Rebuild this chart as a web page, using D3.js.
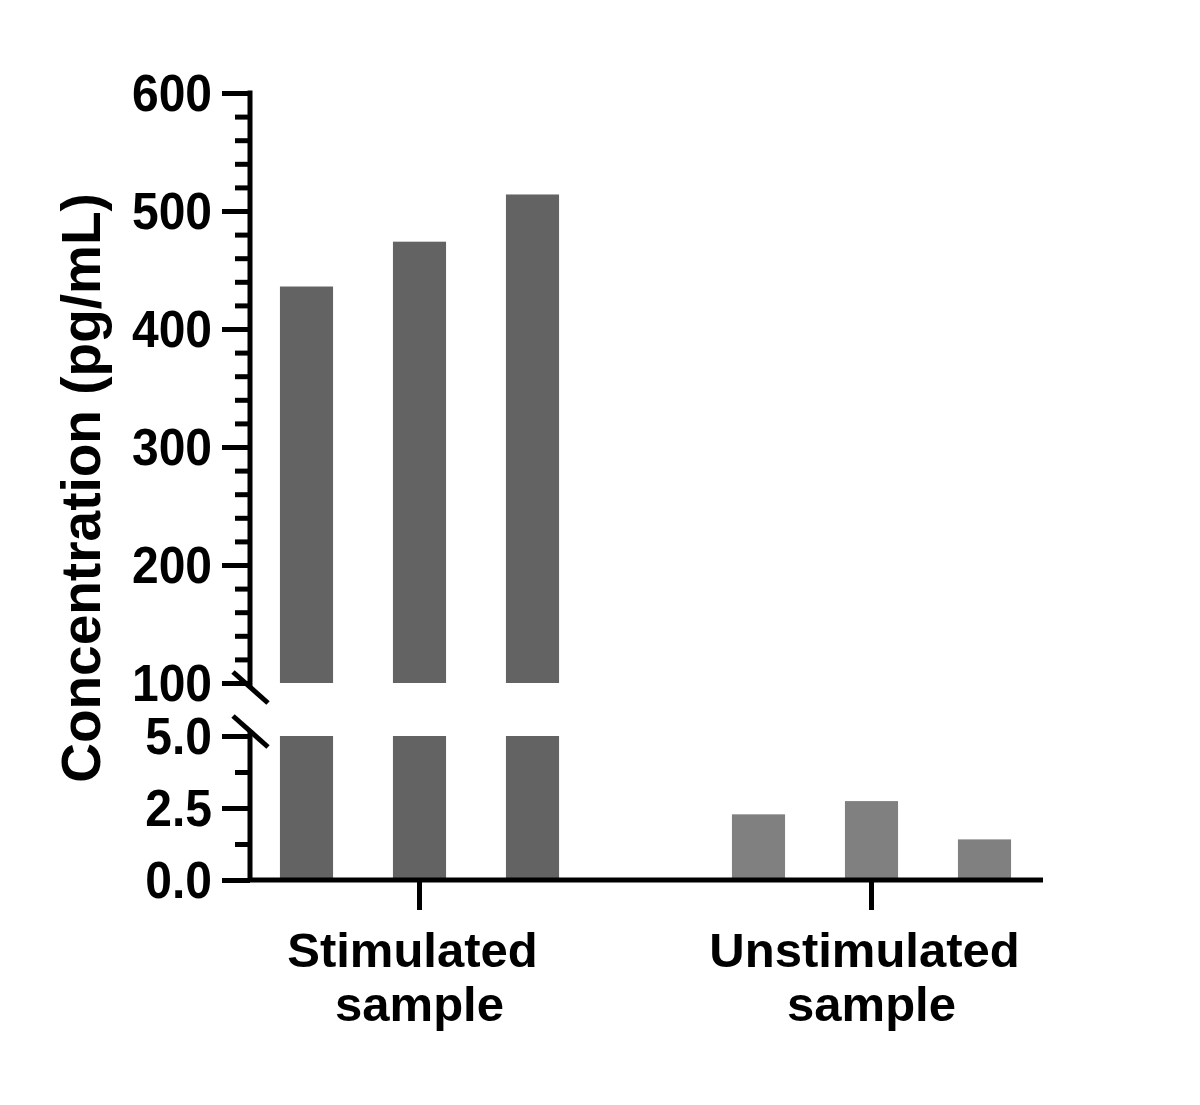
<!DOCTYPE html>
<html>
<head>
<meta charset="utf-8">
<script src="https://cdn.jsdelivr.net/npm/d3@7"></script>
<style>
  body { margin: 0; background: #fff; }
  text { font-family: "Liberation Sans", Arial, sans-serif; font-weight: bold; }
</style>
</head>
<body>
<script>
var w = 1200;
var h = 1105;

// data
var categories = ["Stimulated sample", "Unstimulated sample"];
var stimulated = [436, 474, 514];
var unstimulated = [2.28, 2.74, 1.41];
var topTicks = [100, 200, 300, 400, 500, 600];
var topMinor = [120, 140, 160, 180, 220, 240, 260, 280, 320, 340, 360, 380, 420, 440, 460, 480, 520, 540, 560, 580];
var bottomTicks = [0, 2.5, 5];
var bottomMinor = [1.25, 3.75];
var barColors = ["#636363", "#808080"];

var axisX = 250;

var svg = d3.select("body")
            .append("svg")
            .attr("width", w)
            .attr("height", h);

// y scales, broken axis
var yTop = d3.scaleLinear().domain([100, 600]).range([683, 93]);
var yBot = d3.scaleLinear().domain([0, 5]).range([880, 736]);

// x scales
var xGroup = d3.scalePoint().domain(categories).range([axisX, 1041]).padding(0.375);
var xInner = d3.scaleBand().domain([0, 1, 2]).range([-169.5, 169.5])
               .paddingInner(0.53).paddingOuter(0.265);

var series = [
  { cat: categories[0], values: stimulated, color: barColors[0] },
  { cat: categories[1], values: unstimulated, color: barColors[1] }
];

var bars = [];
series.forEach(function(s) {
  s.values.forEach(function(v, i) {
    bars.push({ cat: s.cat, i: i, v: v, color: s.color });
  });
});

function barX(d) { return xGroup(d.cat) + xInner(d.i); }

// lower segment bars (clipped at 5)
svg.selectAll("rect.low")
  .data(bars)
  .enter()
  .append("rect")
  .attr("class", "low")
  .attr("x", barX)
  .attr("width", xInner.bandwidth())
  .attr("y", function(d) { return yBot(Math.min(d.v, 5)); })
  .attr("height", function(d) { return yBot(0) - yBot(Math.min(d.v, 5)); })
  .attr("fill", function(d) { return d.color; });

// upper segment bars
svg.selectAll("rect.high")
  .data(bars.filter(function(d) { return d.v > 100; }))
  .enter()
  .append("rect")
  .attr("class", "high")
  .attr("x", barX)
  .attr("width", xInner.bandwidth())
  .attr("y", function(d) { return yTop(d.v); })
  .attr("height", function(d) { return yTop(100) - yTop(d.v); })
  .attr("fill", function(d) { return d.color; });

function styleAxis(g) {
  g.select(".domain").remove();
  g.selectAll(".tick line").attr("stroke", "#000").attr("stroke-width", 5);
  g.selectAll(".tick text")
    .attr("fill", "#000")
    .style("font-size", "48px")
    .attr("dy", "0.34em")
    .attr("transform", "scale(1,1.07)");
}

// upper y axis
var gTop = svg.append("g").attr("transform", "translate(" + axisX + ",0)");
gTop.call(d3.axisLeft(yTop).tickValues(topTicks).tickFormat(d3.format("d"))
  .tickSize(28).tickSizeOuter(0).tickPadding(10))
  .call(styleAxis);
gTop.append("g").call(d3.axisLeft(yTop).tickValues(topMinor).tickFormat("").tickSize(15).tickSizeOuter(0))
  .call(styleAxis);
gTop.append("line")
  .attr("x1", 0).attr("x2", 0)
  .attr("y1", yTop(600) - 2.5).attr("y2", yTop(100) + 5)
  .attr("stroke", "#000").attr("stroke-width", 5);

// lower y axis
var gBot = svg.append("g").attr("transform", "translate(" + axisX + ",0)");
gBot.call(d3.axisLeft(yBot).tickValues(bottomTicks).tickFormat(d3.format(".1f"))
  .tickSize(28).tickSizeOuter(0).tickPadding(10))
  .call(styleAxis);
gBot.append("g").call(d3.axisLeft(yBot).tickValues(bottomMinor).tickFormat("").tickSize(15).tickSizeOuter(0))
  .call(styleAxis);
gBot.append("line")
  .attr("x1", 0).attr("x2", 0)
  .attr("y1", yBot(5) - 6).attr("y2", yBot(0))
  .attr("stroke", "#000").attr("stroke-width", 5);

// break marks
[yTop(100) + 4, yBot(5) - 5].forEach(function(cy) {
  svg.append("line")
    .attr("x1", axisX - 17).attr("y1", cy - 15)
    .attr("x2", axisX + 18).attr("y2", cy + 16)
    .attr("stroke", "#000").attr("stroke-width", 5);
});

// x axis
var gX = svg.append("g").attr("transform", "translate(0," + yBot(0) + ")");
gX.append("line")
  .attr("x1", axisX).attr("x2", 1043)
  .attr("stroke", "#000").attr("stroke-width", 5);
gX.selectAll("line.tick")
  .data(categories)
  .enter()
  .append("line")
  .attr("class", "tick")
  .attr("x1", function(d) { return xGroup(d); })
  .attr("x2", function(d) { return xGroup(d); })
  .attr("y1", 0).attr("y2", 30)
  .attr("stroke", "#000").attr("stroke-width", 5);

var labels = gX.selectAll("text.cat")
  .data(categories)
  .enter()
  .append("text")
  .attr("class", "cat")
  .attr("text-anchor", "middle")
  .style("font-size", "49px")
  .attr("fill", "#000");
labels.append("tspan")
  .attr("x", function(d) { return xGroup(d) - 7; })
  .attr("y", 87)
  .text(function(d) { return d.split(" ")[0]; });
labels.append("tspan")
  .attr("x", function(d) { return xGroup(d); })
  .attr("y", 141)
  .text(function(d) { return d.split(" ")[1]; });

// y title
svg.append("text")
  .attr("transform", "translate(100," + 488 + ") rotate(-90)")
  .attr("text-anchor", "middle")
  .style("font-size", "55px")
  .attr("fill", "#000")
  .text("Concentration (pg/mL)");
</script>
</body>
</html>
